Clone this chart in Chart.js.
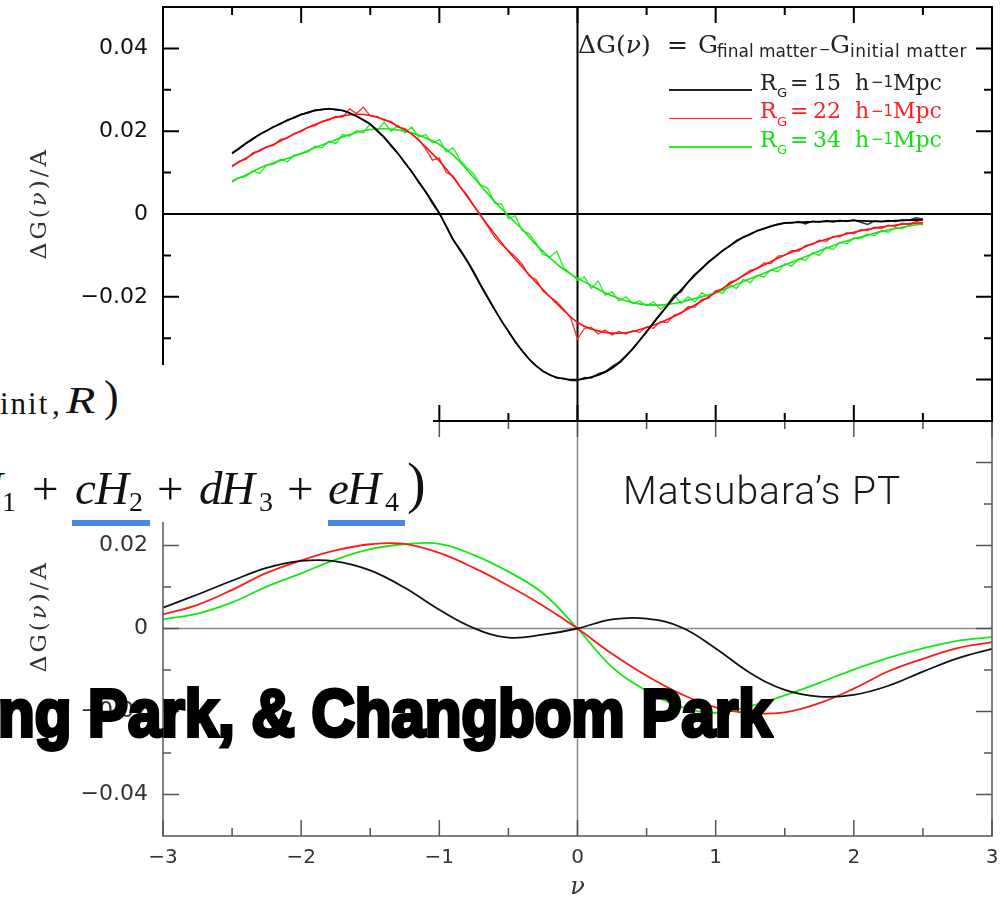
<!DOCTYPE html>
<html><head><meta charset="utf-8">
<script src="https://cdn.jsdelivr.net/npm/chart.js@4.4.1/dist/chart.umd.min.js"></script>
<style>
html,body{margin:0;padding:0;background:#fff;}
#stage{position:relative;width:1004px;height:899px;overflow:hidden;background:#fff;}
canvas{position:absolute;left:0;}
.t{position:absolute;white-space:nowrap;}
.ser{font-family:'DejaVu Serif',serif;}
.lib{font-family:'Liberation Serif','Times New Roman',serif;}
.san{font-family:'DejaVu Sans',sans-serif;}
</style></head><body>
<div id="stage">
<canvas id="cBot" width="1004" height="520" style="top:400px"></canvas>
<canvas id="cTop" width="1004" height="440" style="top:0"></canvas>

<!-- legend of upper panel -->
<div class="t ser" style="left:578px;top:32px;font-size:25px;line-height:25px;color:#222">ΔG(<i>ν</i>)</div>
<div class="t ser" style="left:667px;top:32px;font-size:25px;line-height:25px;color:#222">=</div>
<div class="t ser" style="left:698px;top:32px;font-size:25px;line-height:25px;color:#222">G</div>
<div class="t san" style="left:717px;top:42.7px;font-size:17px;line-height:17px;color:#222">final matter</div>
<div class="t san" style="left:819px;top:42px;font-size:14px;line-height:14px;color:#222">−</div>
<div class="t ser" style="left:830px;top:32px;font-size:25px;line-height:25px;color:#222">G</div>
<div class="t san" style="left:850px;top:42.7px;font-size:17px;line-height:17px;letter-spacing:0.5px;color:#222">initial matter</div>

<div class="t" style="left:669px;top:89.2px;width:83px;height:1.5px;background:#222"></div>
<div class="t ser" style="left:760px;top:71.5px;font-size:22px;line-height:22px;color:#222">R</div>
<div class="t san" style="left:777px;top:86.1px;font-size:13px;line-height:13px;color:#222">G</div>
<div class="t ser" style="left:790px;top:71.5px;font-size:22px;line-height:22px;color:#222">=</div>
<div class="t ser" style="left:813px;top:71.5px;font-size:22px;line-height:22px;color:#222">15</div>
<div class="t ser" style="left:855px;top:71.5px;font-size:22px;line-height:22px;color:#222">h</div>
<div class="t san" style="left:871px;top:75.3px;font-size:15px;line-height:15px;color:#222">−1</div>
<div class="t ser" style="left:893px;top:71.5px;font-size:22px;line-height:22px;color:#222">Mpc</div>

<div class="t" style="left:669px;top:117.7px;width:83px;height:1.5px;background:#ff3030"></div>
<div class="t ser" style="left:760px;top:100px;font-size:22px;line-height:22px;color:#ff2020">R</div>
<div class="t san" style="left:777px;top:114.6px;font-size:13px;line-height:13px;color:#ff2020">G</div>
<div class="t ser" style="left:790px;top:100px;font-size:22px;line-height:22px;color:#ff2020">=</div>
<div class="t ser" style="left:813px;top:100px;font-size:22px;line-height:22px;color:#ff2020">22</div>
<div class="t ser" style="left:855px;top:100px;font-size:22px;line-height:22px;color:#ff2020">h</div>
<div class="t san" style="left:871px;top:103.8px;font-size:15px;line-height:15px;color:#ff2020">−1</div>
<div class="t ser" style="left:893px;top:100px;font-size:22px;line-height:22px;color:#ff2020">Mpc</div>

<div class="t" style="left:669px;top:146.2px;width:83px;height:1.5px;background:#30e830"></div>
<div class="t ser" style="left:760px;top:128.5px;font-size:22px;line-height:22px;color:#10e010">R</div>
<div class="t san" style="left:777px;top:143.1px;font-size:13px;line-height:13px;color:#10e010">G</div>
<div class="t ser" style="left:790px;top:128.5px;font-size:22px;line-height:22px;color:#10e010">=</div>
<div class="t ser" style="left:813px;top:128.5px;font-size:22px;line-height:22px;color:#10e010">34</div>
<div class="t ser" style="left:855px;top:128.5px;font-size:22px;line-height:22px;color:#10e010">h</div>
<div class="t san" style="left:871px;top:132.3px;font-size:15px;line-height:15px;color:#10e010">−1</div>
<div class="t ser" style="left:893px;top:128.5px;font-size:22px;line-height:22px;color:#10e010">Mpc</div>

<!-- y-axis titles -->
<div class="t ser" style="left:38px;top:203px;font-size:23px;line-height:23px;letter-spacing:3px;color:#333;transform:translate(-50%,-50%) rotate(-90deg)">ΔG(<i>ν</i>)/A</div>
<div class="t ser" style="left:38px;top:616px;font-size:23px;line-height:23px;letter-spacing:3px;color:#333;transform:translate(-50%,-50%) rotate(-90deg)">ΔG(<i>ν</i>)/A</div>

<!-- slide overlay: white box with formula fragments -->
<div class="t" style="left:0;top:365px;width:433px;height:157px;background:#fff"></div>
<div class="t lib" style="left:0;top:388px;font-size:31px;line-height:31px;letter-spacing:2px;color:#111">init</div>
<div class="t lib" style="left:52px;top:388px;font-size:31px;line-height:31px;color:#111">,</div>
<div class="t lib" style="left:66px;top:382px;font-size:37px;line-height:37px;color:#111"><i style="display:inline-block;transform:scaleX(1.3);transform-origin:0 0;font-weight:normal">R</i></div>
<div class="t lib" style="left:104px;top:375px;font-size:44px;line-height:44px;color:#111">)</div>

<div class="t lib" style="left:-31px;top:464.5px;font-size:47px;line-height:47px;color:#111"><i>H</i></div>
<div class="t lib" style="left:2px;top:487.5px;font-size:28px;line-height:28px;color:#111">1</div>
<div class="t lib" style="left:32px;top:464.5px;font-size:47px;line-height:47px;color:#111">+</div>
<div class="t lib" style="left:75px;top:464.5px;font-size:47px;line-height:47px;color:#111"><i>c</i></div>
<div class="t lib" style="left:95px;top:464.5px;font-size:47px;line-height:47px;color:#111"><i>H</i></div>
<div class="t lib" style="left:129px;top:487.5px;font-size:28px;line-height:28px;color:#111">2</div>
<div class="t lib" style="left:157px;top:464.5px;font-size:47px;line-height:47px;color:#111">+</div>
<div class="t lib" style="left:199px;top:464.5px;font-size:47px;line-height:47px;color:#111"><i>d</i></div>
<div class="t lib" style="left:221px;top:464.5px;font-size:47px;line-height:47px;color:#111"><i>H</i></div>
<div class="t lib" style="left:259px;top:487.5px;font-size:28px;line-height:28px;color:#111">3</div>
<div class="t lib" style="left:287px;top:464.5px;font-size:47px;line-height:47px;color:#111">+</div>
<div class="t lib" style="left:328px;top:464.5px;font-size:47px;line-height:47px;color:#111"><i>e</i></div>
<div class="t lib" style="left:347px;top:464.5px;font-size:47px;line-height:47px;color:#111"><i>H</i></div>
<div class="t lib" style="left:385px;top:487.5px;font-size:28px;line-height:28px;color:#111">4</div>
<div class="t lib" style="left:407px;top:455px;font-size:56px;line-height:56px;color:#111">)</div>
<div class="t" style="left:72px;top:520px;width:78px;height:6px;background:#4a86e8"></div>
<div class="t" style="left:328px;top:520px;width:77px;height:6px;background:#4a86e8"></div>

<div class="t" style="left:623px;top:472px;font-family:Roboto,'Liberation Sans',sans-serif;font-weight:300;font-size:39px;line-height:39px;letter-spacing:1px;color:#1a1a1a">Matsubara’s PT</div>

<div class="t" style="left:-2px;top:685.6px;font-family:'Liberation Sans',Arial,sans-serif;font-weight:bold;font-size:60px;line-height:60px;color:#000;-webkit-text-stroke:3.5px #000;transform:scaleY(1.1);transform-origin:0 50.8px">ng Park, &amp; Changbom Park</div>
</div>

<script>
// ---------- data ----------
const nuSim = [-2.5,-2.45,-2.4,-2.35,-2.3,-2.25,-2.2,-2.15,-2.1,-2.05,-2,-1.95,-1.9,-1.85,-1.8,-1.75,-1.7,-1.65,-1.6,-1.55,-1.5,-1.45,-1.4,-1.35,-1.3,-1.25,-1.2,-1.15,-1.1,-1.05,-1,-0.95,-0.9,-0.85,-0.8,-0.75,-0.7,-0.65,-0.6,-0.55,-0.5,-0.45,-0.4,-0.35,-0.3,-0.25,-0.2,-0.15,-0.1,-0.05,0,0.05,0.1,0.15,0.2,0.25,0.3,0.35,0.4,0.45,0.5,0.55,0.6,0.65,0.7,0.75,0.8,0.85,0.9,0.95,1,1.05,1.1,1.15,1.2,1.25,1.3,1.35,1.4,1.45,1.5,1.55,1.6,1.65,1.7,1.75,1.8,1.85,1.9,1.95,2,2.05,2.1,2.15,2.2,2.25,2.3,2.35,2.4,2.45,2.5];
const simB15 = [0.0148,0.0157,0.0170,0.0180,0.0193,0.0200,0.0211,0.0217,0.0227,0.0232,
0.0241,0.0244,0.0251,0.0252,0.0255,0.0251,0.0250,0.0244,0.0237,0.0226,
0.0217,0.0200,0.0186,0.0164,0.0147,0.0123,0.0103,0.0076,0.0055,0.0025,
0.0001,-0.0030,-0.0062,-0.0085,-0.0112,-0.0140,-0.0171,-0.0200,-0.0230,-0.0258,
-0.0283,-0.0310,-0.0330,-0.0351,-0.0366,-0.0380,-0.0388,-0.0397,-0.0397,-0.0402,
-0.0403,-0.0395,-0.0396,-0.0386,-0.0381,-0.0368,-0.0358,-0.0342,-0.0326,-0.0305,
-0.0285,-0.0262,-0.0242,-0.0220,-0.0196,-0.0188,-0.0164,-0.0145,-0.0133,-0.0114,
-0.0103,-0.0088,-0.0078,-0.0064,-0.0056,-0.0050,-0.0040,-0.0036,-0.0029,-0.0024,
-0.0021,-0.0022,-0.0018,-0.0024,-0.0017,-0.0020,-0.0016,-0.0019,-0.0015,-0.0018,
-0.0014,-0.0020,-0.0025,-0.0017,-0.0019,-0.0016,-0.0018,-0.0014,-0.0015,-0.0009,-0.0012];
const simR22 = [0.0114,0.0127,0.0132,0.0148,0.0152,0.0163,0.0166,0.0180,0.0183,0.0195,
0.0199,0.0210,0.0213,0.0224,0.0227,0.0236,0.0234,0.0254,0.0243,0.0258,
0.0237,0.0236,0.0226,0.0224,0.0210,0.0206,0.0194,0.0180,0.0158,0.0130,
0.0135,0.0100,0.0092,0.0066,0.0046,0.0020,-0.0004,-0.0030,-0.0056,-0.0074,
-0.0088,-0.0103,-0.0122,-0.0150,-0.0158,-0.0186,-0.0200,-0.0212,-0.0230,-0.0250,
-0.0302,-0.0276,-0.0274,-0.0290,-0.0280,-0.0292,-0.0284,-0.0290,-0.0282,-0.0286,
-0.0272,-0.0276,-0.0260,-0.0262,-0.0244,-0.0240,-0.0224,-0.0225,-0.0206,-0.0203,
-0.0185,-0.0182,-0.0165,-0.0160,-0.0148,-0.0136,-0.0132,-0.0118,-0.0120,-0.0102,
-0.0100,-0.0088,-0.0090,-0.0076,-0.0074,-0.0063,-0.0066,-0.0054,-0.0055,-0.0045,
-0.0048,-0.0038,-0.0040,-0.0032,-0.0035,-0.0027,-0.0030,-0.0022,-0.0026,-0.0018,-0.0022];
const simG34 = [0.0076,0.0088,0.0090,0.0104,0.0098,0.0118,0.0120,0.0132,0.0126,0.0142,
0.0146,0.0150,0.0164,0.0160,0.0176,0.0170,0.0192,0.0188,0.0202,0.0196,
0.0218,0.0202,0.0222,0.0200,0.0214,0.0196,0.0210,0.0186,0.0192,0.0172,
0.0180,0.0150,0.0160,0.0130,0.0112,0.0096,0.0070,0.0062,0.0026,0.0024,
-0.0012,-0.0004,-0.0040,-0.0048,-0.0070,-0.0098,-0.0104,-0.0090,-0.0130,-0.0144,
-0.0160,-0.0152,-0.0180,-0.0162,-0.0196,-0.0188,-0.0210,-0.0200,-0.0216,-0.0210,
-0.0222,-0.0212,-0.0230,-0.0218,-0.0196,-0.0216,-0.0200,-0.0212,-0.0190,-0.0200,
-0.0186,-0.0192,-0.0170,-0.0180,-0.0158,-0.0166,-0.0148,-0.0152,-0.0134,-0.0140,
-0.0120,-0.0126,-0.0108,-0.0112,-0.0094,-0.0100,-0.0080,-0.0086,-0.0068,-0.0072,
-0.0058,-0.0060,-0.0048,-0.0052,-0.0040,-0.0044,-0.0032,-0.0036,-0.0026,-0.0022,-0.0026];

const nuFit = [-2.5,-2.4,-2.3,-2.2,-2.1,-2,-1.9,-1.8,-1.7,-1.6,-1.5,-1.4,-1.3,-1.2,-1.1,-1,-0.9,-0.8,-0.7,-0.6,-0.5,-0.4,-0.3,-0.2,-0.1,0,0.1,0.2,0.3,0.4,0.5,0.6,0.7,0.8,0.9,1,1.1,1.2,1.3,1.4,1.5,1.6,1.7,1.8,1.9,2,2.1,2.2,2.3,2.4,2.5];
const fitB15 = [0.0146,0.0171,0.0192,0.0210,0.0226,0.0240,0.0250,0.0254,0.0250,0.0236,
0.0217,0.0185,0.0146,0.0102,0.0054,0.0002,-0.0062,-0.0113,-0.0173,-0.0231,
-0.0284,-0.0331,-0.0367,-0.0389,-0.0398,-0.0400,-0.0394,-0.0382,-0.0360,-0.0325,
-0.0284,-0.0242,-0.0202,-0.0165,-0.0131,-0.0102,-0.0077,-0.0056,-0.0041,-0.0030,
-0.0022,-0.0020,-0.0019,-0.0018,-0.0017,-0.0016,-0.0017,-0.0018,-0.0016,-0.0015,-0.0014];
const fitR22 = [0.0116,0.0135,0.0154,0.0168,0.0185,0.0201,0.0216,0.0229,0.0237,0.0241,
0.0238,0.0228,0.0212,0.0193,0.0162,0.0128,0.0088,0.0043,-0.0004,-0.0048,
-0.0090,-0.0128,-0.0165,-0.0200,-0.0233,-0.0262,-0.0278,-0.0286,-0.0288,-0.0284,
-0.0274,-0.0262,-0.0247,-0.0229,-0.0210,-0.0190,-0.0169,-0.0149,-0.0131,-0.0115,
-0.0099,-0.0086,-0.0072,-0.0061,-0.0052,-0.0044,-0.0037,-0.0031,-0.0027,-0.0023,-0.0021];
const fitG34 = [0.0080,0.0094,0.0111,0.0124,0.0134,0.0146,0.0160,0.0173,0.0186,0.0197,
0.0204,0.0206,0.0203,0.0196,0.0184,0.0168,0.0142,0.0107,0.0068,0.0030,
-0.0004,-0.0037,-0.0074,-0.0106,-0.0134,-0.0155,-0.0173,-0.0190,-0.0204,-0.0214,
-0.0219,-0.0220,-0.0216,-0.0208,-0.0200,-0.0190,-0.0177,-0.0163,-0.0150,-0.0136,
-0.0123,-0.0110,-0.0096,-0.0083,-0.0070,-0.0060,-0.0051,-0.0042,-0.0035,-0.0029,-0.0024];

const nuPT = [-3,-2.75,-2.5,-2.25,-2,-1.75,-1.5,-1.25,-1,-0.75,-0.5,-0.25,0,0.25,0.5,0.75,1,1.25,1.5,1.75,2,2.25,2.5,2.75,3];
const ptB15 = [0.0050,0.0082,0.0115,0.0146,0.0163,0.0162,0.0140,0.0098,0.0045,0.0001,-0.0022,-0.0015,0,0.0022,0.0024,0.0003,-0.0048,-0.0107,-0.0148,-0.0164,-0.0160,-0.0138,-0.0104,-0.0072,-0.0049];
const ptR22 = [0.0034,0.0057,0.0093,0.0134,0.0164,0.0188,0.0203,0.0204,0.0182,0.0146,0.0103,0.0055,0,-0.0061,-0.0114,-0.0158,-0.0190,-0.0204,-0.0202,-0.0180,-0.0145,-0.0103,-0.0073,-0.0047,-0.0033];
const ptG34 = [0.0022,0.0036,0.0063,0.0101,0.0133,0.0166,0.0191,0.0203,0.0204,0.0177,0.0137,0.0085,0,-0.0093,-0.0150,-0.0189,-0.0203,-0.0187,-0.0161,-0.0131,-0.0099,-0.0071,-0.0048,-0.0030,-0.0021];

const yTickVals = [-0.04,-0.02,0,0.02,0.04];
const yMinorVals = [-0.03,-0.01,0.01,0.03];
const xTickVals = [-3,-2,-1,0,1,2,3];
const xMinorVals = [-2.5,-1.5,-0.5,0.5,1.5,2.5];

// ---------- helpers ----------
const pts = (xs, ys) => xs.map((x, i) => ({x: x, y: ys[i]}));
const fmtY = v => v === 0 ? '0' : (v < 0 ? '\u2212' : '') + Math.abs(v).toFixed(2);
const fmtX = v => (v < 0 ? '\u2212' : '') + Math.abs(v);

const framePlugin = {
  id: 'frame',
  beforeDatasetsDraw(chart, args, o) {
    const {ctx, chartArea: a, scales: {x, y}} = chart;
    ctx.save();
    ctx.strokeStyle = o.zeroColor; ctx.lineWidth = o.zeroWidth;
    const y0 = y.getPixelForValue(0), x0 = x.getPixelForValue(0);
    ctx.beginPath();
    ctx.moveTo(a.left, y0); ctx.lineTo(a.right, y0);
    ctx.moveTo(x0, a.top); ctx.lineTo(x0, a.bottom);
    ctx.stroke();
    ctx.restore();
  },
  afterDatasetsDraw(chart, args, o) {
    const {ctx, chartArea: a, scales: {x, y}} = chart;
    ctx.save();
    ctx.strokeStyle = o.color; ctx.lineWidth = o.width;
    ctx.strokeRect(a.left, a.top, a.right - a.left, a.bottom - a.top);
    ctx.beginPath();
    const seg = (x1, y1, x2, y2) => { ctx.moveTo(x1, y1); ctx.lineTo(x2, y2); };
    const xt = (vals, L) => vals.forEach(v => { const p = x.getPixelForValue(v); seg(p, a.bottom, p, a.bottom - L); seg(p, a.top, p, a.top + L); });
    const yt = (vals, L) => vals.forEach(v => { const p = y.getPixelForValue(v); seg(a.left, p, a.left + L, p); seg(a.right, p, a.right - L, p); });
    xt(xTickVals, o.major); xt(xMinorVals, o.minor);
    yt(yTickVals, o.major); yt(yMinorVals, o.minor);
    ctx.stroke();
    ctx.restore();
  }
};

Chart.defaults.font.family = "'DejaVu Sans', sans-serif";

const yScale = (color) => ({
  min: -0.05, max: 0.05,
  grid: {display: false, drawTicks: false},
  border: {display: false},
  afterBuildTicks: s => { s.ticks = yTickVals.map(v => ({value: v})); },
  afterFit: s => { s.width = 163; s.paddingTop = 0; s.paddingBottom = 0; },
  ticks: {padding: 15, color: color, font: {size: 22}, callback: fmtY, autoSkip: false}
});

// ---------- upper panel: simulation ----------
new Chart(document.getElementById('cTop'), {
  type: 'line',
  data: {datasets: [
    {label: 'fit 15', data: pts(nuFit, fitB15), borderColor: '#000000', borderWidth: 1.8, tension: 0.3},
    {label: 'fit 22', data: pts(nuFit, fitR22), borderColor: '#ff1010', borderWidth: 1.6, tension: 0.3},
    {label: 'fit 34', data: pts(nuFit, fitG34), borderColor: '#10e810', borderWidth: 1.6, tension: 0.3},
    {label: 'R_G=15', data: pts(nuSim, simB15), borderColor: '#333333', borderWidth: 1.5, tension: 0},
    {label: 'R_G=22', data: pts(nuSim, simR22), borderColor: '#ff2a2a', borderWidth: 1.3, tension: 0},
    {label: 'R_G=34', data: pts(nuSim, simG34), borderColor: '#22ee22', borderWidth: 1.3, tension: 0}
  ]},
  options: {
    responsive: false, animation: false, devicePixelRatio: 1,
    elements: {point: {radius: 0}},
    layout: {padding: {top: 7, right: 12, bottom: 19, left: 0}},
    plugins: {
      legend: {display: false}, tooltip: {enabled: false},
      frame: {color: '#000', width: 2, zeroColor: '#000', zeroWidth: 2, major: 16, minor: 8}
    },
    scales: {
      x: {type: 'linear', min: -3, max: 3, display: false},
      y: yScale('#111')
    }
  },
  plugins: [framePlugin]
});

// ---------- lower panel: Matsubara's PT ----------
new Chart(document.getElementById('cBot'), {
  type: 'line',
  data: {datasets: [
    {label: 'R_G=15', data: pts(nuPT, ptB15), borderColor: '#111111', borderWidth: 1.8, tension: 0.4},
    {label: 'R_G=22', data: pts(nuPT, ptR22), borderColor: '#ff1a1a', borderWidth: 1.8, tension: 0.4},
    {label: 'R_G=34', data: pts(nuPT, ptG34), borderColor: '#14e814', borderWidth: 1.8, tension: 0.4}
  ]},
  options: {
    responsive: false, animation: false, devicePixelRatio: 1,
    elements: {point: {radius: 0}},
    layout: {padding: {top: 21, right: 12, bottom: 0, left: 0}},
    plugins: {
      legend: {display: false}, tooltip: {enabled: false},
      frame: {color: '#555', width: 1.5, zeroColor: '#888', zeroWidth: 1.5, major: 16, minor: 8}
    },
    scales: {
      x: {
        type: 'linear', min: -3, max: 3,
        grid: {display: false, drawTicks: false},
        border: {display: false},
        afterBuildTicks: s => { s.ticks = xTickVals.map(v => ({value: v})); },
        afterFit: s => { s.height = 84; s.paddingLeft = 0; s.paddingRight = 0; },
        ticks: {padding: 10, color: '#333', font: {size: 20}, callback: fmtX, autoSkip: false, maxRotation: 0},
        title: {display: true, text: 'ν', color: '#333', font: {family: "'DejaVu Serif', serif", style: 'italic', size: 24}, padding: {top: 0, bottom: 18}}
      },
      y: yScale('#333')
    }
  },
  plugins: [framePlugin]
});
</script>
</body></html>
